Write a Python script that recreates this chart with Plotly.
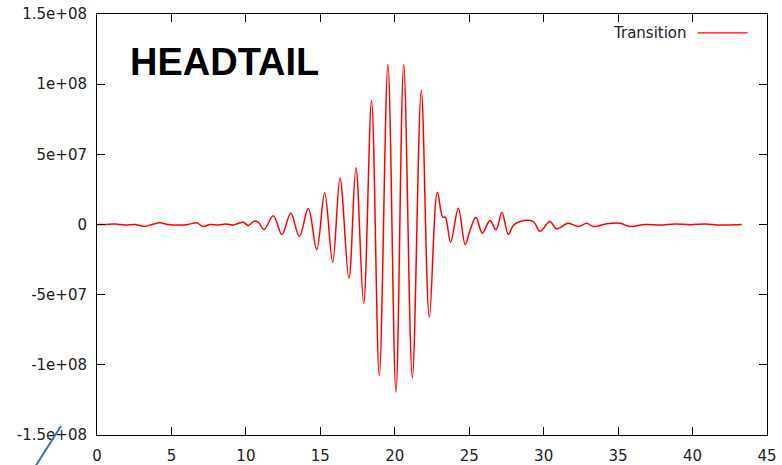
import plotly.graph_objects as go

# Data
time_ns = [0.00, 0.54, 1.21, 1.88, 2.55, 3.22, 3.69, 4.23, 4.77, 5.44, 6.11, 6.70, 7.12, 7.59,
           8.13, 8.66, 9.13, 9.47, 9.83, 10.16, 10.54, 10.83, 11.22, 11.84, 12.42, 13.01,
           13.59, 14.19, 14.76, 15.29, 15.83, 16.32, 16.92, 17.39, 17.91, 18.44, 18.96,
           19.54, 20.08, 20.60, 21.18, 21.78, 22.32, 22.86, 23.22, 23.39, 23.75, 24.27,
           24.73, 25.05, 25.45, 25.88, 26.39, 26.80, 27.20, 27.62, 27.96, 28.41, 29.30,
           29.75, 30.42, 30.87, 31.65, 32.32, 32.89, 33.33, 34.23, 35.13, 35.80, 36.81,
           37.82, 38.83, 39.83, 40.84, 41.84, 43.30]
transition = [0.0, 0.0, 0.36e6, -0.36e6, 0.0, -1.43e6, 0.0, 1.21e6, 0.0, -0.36e6, 0.0, 1.21e6,
              -1.43e6, 0.0, -0.36e6, 0.36e6, -0.36e6, 0.71e6, 1.64e6, -0.71e6, 2.35e6, 1.64e6,
              -3.56e6, 6.2e6, -7.13e6, 8.05e6, -8.55e6, 11.4e6, -18.0e6, 22.6e6, -26.9e6,
              33.0e6, -38.3e6, 40.4e6, -56.3e6, 88.4e6, -107.6e6, 114.0e6, -119.5e6, 114.0e6,
              -109.3e6, 95.5e6, -66.1e6, 23.0e6, 5.2e6, 5.2e6, -12.6e6, 11.6e6, -14.3e6,
              -4.3e6, 5.2e6, -6.2e6, 2.9e6, -3.8e6, 8.8e6, -7.1e6, -0.7e6, 2.1e6, 2.1e6,
              -4.8e6, 2.1e6, -3.1e6, 0.9e6, -1.4e6, 0.9e6, -1.4e6, 0.5e6, 0.9e6, -1.4e6, 0.0,
              -0.4e6, 0.4e6, -0.2e6, 0.4e6, -0.4e6, 0.0]

x_tick_vals = [0, 5, 10, 15, 20, 25, 30, 35, 40, 45]
y_tick_vals = [1.5e8, 1e8, 5e7, 0, -5e7, -1e8, -1.5e8]
y_tick_text = ["1.5e+08", "1e+08", "5e+07", "0", "-5e+07", "-1e+08", "-1.5e+08"]

series_name = "Transition"
title_text = "HEADTAIL"

tick_font = dict(family="DejaVu Sans", size=15, color="#222222")

fig = go.Figure()
fig.add_trace(go.Scatter(
    x=time_ns, y=transition, mode="lines", name=series_name,
    line=dict(color="#ff0000", width=1.5, shape="spline", smoothing=1.0),
    showlegend=False,
))

axis_common = dict(
    showline=True, linecolor="black", linewidth=1, mirror="ticks",
    ticks="inside", ticklen=8, tickcolor="black", tickwidth=1,
    showgrid=False, zeroline=False, tickfont=tick_font, automargin=False,
)
fig.update_xaxes(range=[0, 45], tickvals=x_tick_vals, ticklabelstandoff=7, **axis_common)
fig.update_yaxes(range=[-1.5e8, 1.5e8], tickvals=y_tick_vals, ticktext=y_tick_text,
                 ticklabelstandoff=6, **axis_common)

fig.add_annotation(text=title_text, xref="paper", yref="paper", x=0.1906, y=0.886,
                   xanchor="center", yanchor="middle", showarrow=False,
                   font=dict(family="Liberation Sans", size=38, color="black", weight="bold"))
fig.add_annotation(text=series_name, xref="paper", yref="paper", x=0.884, y=0.956,
                   xanchor="right", yanchor="middle", showarrow=False,
                   font=dict(family="DejaVu Sans", size=15, color="#222222"))
fig.add_shape(type="line", xref="paper", yref="paper", x0=0.8966, x1=0.9712, y0=0.955, y1=0.955,
              line=dict(color="#ff0000", width=1.3))
fig.add_shape(type="line", xref="paper", yref="paper", x0=-0.0954, y0=-0.083, x1=-0.0537, y1=0.0214,
              line=dict(color="#3d6fba", width=2))

fig.update_layout(
    width=782, height=465,
    margin=dict(l=97, r=15, t=14, b=30),
    paper_bgcolor="white", plot_bgcolor="white",
)
fig.write_html("out.html", config={"displayModeBar": False},
               post_script="document.body.style.margin='0';document.body.style.padding='0';")
